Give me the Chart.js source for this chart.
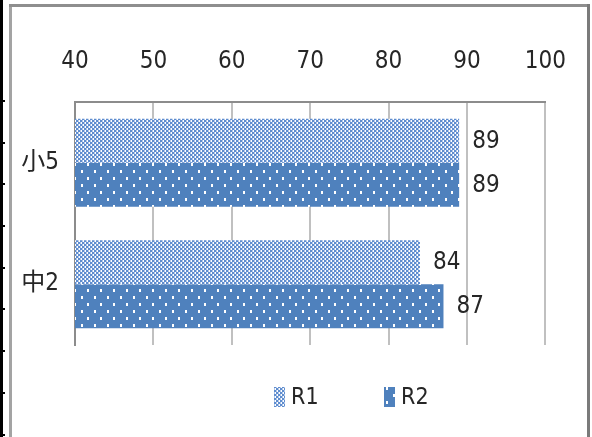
<!DOCTYPE html>
<html lang="zh">
<head>
<meta charset="UTF-8" />
<title>R1 R2</title>
<script src="https://cdn.jsdelivr.net/npm/chart.js"></script>
<style>
  body { margin: 0; background: #fff; }
  #wrap { position: relative; width: 592px; height: 437px; overflow: hidden; }
  #chart { position: absolute; left: 0; top: 0; }
  .edge { position: absolute; pointer-events: none; }
  #blackLine { left: 0; top: 0; width: 3px; height: 437px; background: #000; }
  #blackTicks {
    left: 3px; top: 100px; width: 2px; height: 337px;
    background: repeating-linear-gradient(to bottom, #000 0, #000 2px, transparent 2px, transparent 41.7px);
  }
  #frameLeft { left: 9px; top: 4px; width: 3px; height: 433px; background: #a3a3a3; }
  #frameTop { left: 9px; top: 4px; width: 581px; height: 3px; background: #8e8e8e; }
  #frameRight { left: 587px; top: 4px; width: 3px; height: 433px; background: #7a7a7a; }
</style>
</head>
<body>
<div id="wrap">
  <canvas id="chart" width="592" height="437"></canvas>
  <div class="edge" id="blackLine"></div>
  <div class="edge" id="blackTicks"></div>
  <div class="edge" id="frameLeft"></div>
  <div class="edge" id="frameTop"></div>
  <div class="edge" id="frameRight"></div>
</div>
<script>
  // chart data
  const categories = ["小5", "中2"];
  const seriesNames = ["R1", "R2"];
  const r1Values = [89, 84];
  const r2Values = [89, 87];
  const xTicks = [40, 50, 60, 70, 80, 90, 100];

  const narrow = "'Liberation Sans Narrow', 'DejaVu Sans Condensed', 'Noto Sans CJK SC', sans-serif";
  const textColor = "#262626";

  // small checker fill for R1
  function checkerPattern() {
    const c = document.createElement("canvas");
    c.width = 4; c.height = 4;
    const g = c.getContext("2d");
    g.fillStyle = "#ffffff";
    g.fillRect(0, 0, 4, 4);
    g.fillStyle = "#5f8dcf";
    g.fillRect(0, 0, 2, 2);
    g.fillRect(2, 2, 2, 2);
    g.fillStyle = "#b4c9e8";
    g.fillRect(2, 0, 1, 2);
    g.fillRect(0, 2, 1, 2);
    return g.createPattern(c, "repeat");
  }

  // dotted fill for R2
  function dotPattern() {
    const c = document.createElement("canvas");
    c.width = 13; c.height = 14;
    const g = c.getContext("2d");
    g.fillStyle = "#4f81bd";
    g.fillRect(0, 0, 13, 14);
    g.fillStyle = "#ffffff";
    g.fillRect(3, 2, 2, 3);
    g.fillRect(9, 9, 2, 3);
    return g.createPattern(c, "repeat");
  }

  const fills = [checkerPattern(), dotPattern()];

  const valueLabels = {
    id: "valueLabels",
    afterDatasetsDraw(chart) {
      const ctx = chart.ctx;
      ctx.save();
      ctx.font = "24px " + narrow;
      ctx.fillStyle = textColor;
      ctx.textBaseline = "middle";
      ctx.textAlign = "left";
      chart.data.datasets.forEach((ds, i) => {
        chart.getDatasetMeta(i).data.forEach((bar, j) => {
          ctx.fillText(String(ds.data[j]), bar.x + 13, bar.y + 1);
        });
      });
      ctx.restore();
    }
  };

  // legend under the plot
  const bottomLegend = {
    id: "bottomLegend",
    afterDraw(chart) {
      const ctx = chart.ctx;
      const xs = [274, 384];
      const y = 397;
      ctx.save();
      ctx.font = "23px " + narrow;
      ctx.textBaseline = "middle";
      chart.data.datasets.forEach((ds, i) => {
        ctx.fillStyle = ds.backgroundColor;
        ctx.fillRect(xs[i], y - 10, 11, 20);
        ctx.fillStyle = textColor;
        ctx.fillText(ds.label, xs[i] + 17, y + 1);
      });
      ctx.restore();
    }
  };

  new Chart(document.getElementById("chart"), {
    type: "bar",
    data: {
      labels: categories,
      datasets: [
        { label: seriesNames[0], data: r1Values, backgroundColor: fills[0] },
        { label: seriesNames[1], data: r2Values, backgroundColor: fills[1] }
      ]
    },
    options: {
      indexAxis: "y",
      responsive: false,
      animation: false,
      categoryPercentage: 0.724,
      barPercentage: 1,
      layout: { padding: { left: 12, top: 8, right: 43, bottom: 92 } },
      plugins: {
        legend: { display: false },
        tooltip: { enabled: false }
      },
      scales: {
        x: {
          type: "linear",
          position: "top",
          min: xTicks[0],
          max: xTicks[xTicks.length - 1],
          afterBuildTicks: (s) => { s.ticks = xTicks.map((v) => ({ value: v })); },
          afterFit: (s) => { s.height = 94; },
          ticks: { color: textColor, font: { family: narrow, size: 24 }, padding: 26 },
          grid: { color: "#c0c0c0", lineWidth: 2, drawTicks: false },
          border: { color: "#8c8c8c", width: 2 }
        },
        y: {
          afterFit: (s) => { s.width = 63; },
          ticks: { color: textColor, font: { family: narrow, size: 24 }, padding: 16 },
          grid: { display: false, drawTicks: false },
          border: { color: "#8c8c8c", width: 2 }
        }
      }
    },
    plugins: [valueLabels, bottomLegend]
  });
</script>
</body>
</html>
